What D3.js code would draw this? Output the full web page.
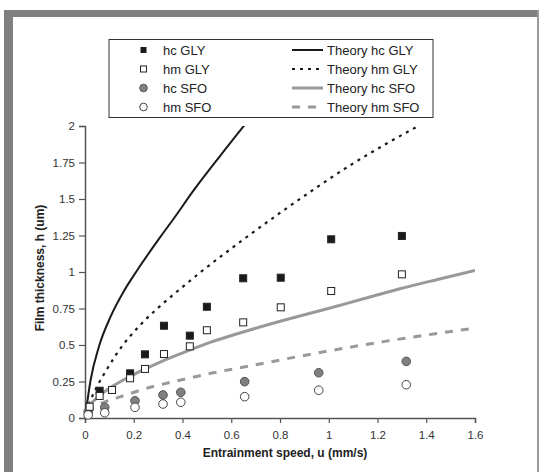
<!DOCTYPE html>
<html><head><meta charset="utf-8">
<script src="https://cdn.jsdelivr.net/npm/d3@7"></script>
<style>body{margin:0;background:#fff}svg{display:block;font-family:"Liberation Sans",Arial,sans-serif}</style>
</head><body><svg id="c" width="540" height="472"></svg>
<script>
const xTicks=[0,0.2,0.4,0.6,0.8,1,1.2,1.4,1.6];
const yTicks=[0,0.25,0.5,0.75,1,1.25,1.5,1.75,2];
const yTickLabels=["0","0.25","0.5","0.75","1","1.25","1.5","1.75","2"];
const xTickLabels=["0","0.2","0.4","0.6","0.8","1","1.2","1.4","1.6"];

const hcGLY_u=[0.060,0.185,0.246,0.324,0.430,0.500,0.649,0.803,1.010,1.300];
const hcGLY_h=[0.187,0.306,0.436,0.632,0.564,0.762,0.957,0.961,1.224,1.247];
const hmGLY_u=[0.019,0.060,0.111,0.185,0.246,0.324,0.430,0.500,0.649,0.803,1.010,1.300];
const hmGLY_h=[0.077,0.151,0.192,0.272,0.336,0.438,0.491,0.601,0.655,0.758,0.870,0.984];
const hcSFO_u=[0.013,0.081,0.205,0.320,0.393,0.655,0.959,1.318];
const hcSFO_h=[0.043,0.073,0.118,0.158,0.176,0.249,0.310,0.388];
const hmSFO_u=[0.013,0.081,0.205,0.320,0.393,0.655,0.959,1.318];
const hmSFO_h=[0.021,0.036,0.073,0.096,0.108,0.146,0.190,0.228];

const thcGLY_u=[0.003,0.023,0.057,0.105,0.160,0.215,0.310,0.365,0.447,0.557,0.680];
const thcGLY_h=[0.032,0.260,0.488,0.694,0.870,1.014,1.242,1.368,1.562,1.801,2.060];
const thmGLY_u=[0.005,0.030,0.057,0.085,0.126,0.160,0.201,0.249,0.331,0.420,0.475,0.560,0.648,0.807,0.951,1.087,1.238,1.400];
const thmGLY_h=[0.040,0.150,0.240,0.320,0.430,0.510,0.590,0.675,0.800,0.925,1.000,1.110,1.220,1.413,1.580,1.730,1.880,2.030];
const thcSFO_u=[0.010,0.050,0.111,0.185,0.246,0.324,0.406,0.516,0.611,0.690,0.850,0.998,1.150,1.292,1.450,1.600];
const thcSFO_h=[0.075,0.140,0.215,0.285,0.335,0.395,0.450,0.520,0.570,0.610,0.685,0.750,0.820,0.885,0.950,1.010];
const thmSFO_u=[0.010,0.037,0.085,0.146,0.276,0.393,0.516,0.670,0.910,1.224,1.600];
const thmSFO_h=[0.040,0.077,0.112,0.146,0.214,0.260,0.306,0.355,0.432,0.523,0.616];

const svg=d3.select("#c");
// frame
svg.append("rect").attr("x",4).attr("y",10).attr("width",535).attr("height",7).attr("fill","#808080");
svg.append("rect").attr("x",4).attr("y",10).attr("width",9).attr("height",462).attr("fill","#808080");
svg.append("rect").attr("x",537).attr("y",10).attr("width",2).attr("height",462).attr("fill","#9a9a9a");

const x=d3.scaleLinear().domain([0,1.6]).range([85,475]);
const y=d3.scaleLinear().domain([0,2]).range([418,126]);

svg.append("defs").append("clipPath").attr("id","clip").append("rect")
  .attr("x",85).attr("y",126).attr("width",390).attr("height",292);

const axCol="#555", txtCol="#333";
const xa=svg.append("g").attr("transform","translate(0,418)")
  .call(d3.axisBottom(x).tickValues(xTicks).tickSize(5).tickPadding(8).tickFormat((d,i)=>xTickLabels[i]));
const ya=svg.append("g").attr("transform","translate(85,0)")
  .call(d3.axisLeft(y).tickValues(yTicks).tickSize(6).tickPadding(4).tickFormat((d,i)=>yTickLabels[i]));
[xa,ya].forEach(a=>{
  a.selectAll("path").attr("stroke",axCol).attr("stroke-width",1.5);
  a.selectAll("line").attr("stroke",axCol).attr("stroke-width",1.2);
  a.selectAll("text").attr("fill",txtCol).style("font-size","11.5px").style("font-family","Liberation Sans, Arial, sans-serif");
});

svg.append("text").attr("x",285).attr("y",457).attr("text-anchor","middle")
  .style("font-weight","bold").style("font-size","12px").attr("fill","#222").text("Entrainment speed, u (mm/s)");
svg.append("text").attr("transform","translate(44,268) rotate(-90)").attr("text-anchor","middle")
  .style("font-weight","bold").style("font-size","12px").attr("fill","#222").text("Film thickness, h (um)");

const line=d3.line().x(d=>x(d[0])).y(d=>y(d[1])).curve(d3.curveMonotoneX);
const zip=(a,b)=>a.map((v,i)=>[v,b[i]]);
const curves=[
  {u:thcGLY_u,h:thcGLY_h,stroke:"#1a1a1a",w:2,dash:null},
  {u:thmGLY_u,h:thmGLY_h,stroke:"#1a1a1a",w:2.2,dash:"3,5"},
  {u:thcSFO_u,h:thcSFO_h,stroke:"#999",w:3,dash:null},
  {u:thmSFO_u,h:thmSFO_h,stroke:"#999",w:3,dash:"8,8"}
];
const cg=svg.append("g").attr("clip-path","url(#clip)");
curves.forEach(c=>{
  cg.append("path").datum(zip(c.u,c.h)).attr("d",line).attr("fill","none")
    .attr("stroke",c.stroke).attr("stroke-width",c.w).attr("stroke-dasharray",c.dash);
});

function squares(u,h,fill){
  svg.append("g").selectAll("rect").data(zip(u,h)).join("rect")
    .attr("x",d=>x(d[0])-3.5).attr("y",d=>y(d[1])-3.5).attr("width",7).attr("height",7)
    .attr("fill",fill).attr("stroke","#222").attr("stroke-width",1);
}
function circles(u,h,fill,stroke){
  svg.append("g").selectAll("circle").data(zip(u,h)).join("circle")
    .attr("cx",d=>x(d[0])).attr("cy",d=>y(d[1])).attr("r",4.3)
    .attr("fill",fill).attr("stroke",stroke).attr("stroke-width",1);
}
circles(hcSFO_u,hcSFO_h,"#808080","#555");
circles(hmSFO_u,hmSFO_h,"#fff","#444");
squares(hcGLY_u,hcGLY_h,"#1a1a1a");
squares(hmGLY_u,hmGLY_h,"#fff");

// legend
const lg=svg.append("g");
lg.append("rect").attr("x",109).attr("y",39.5).attr("width",324).attr("height",78).attr("fill","#fff").attr("stroke","#333").attr("stroke-width",1);
const legLeft=["hc GLY","hm GLY","hc SFO","hm SFO"];
const legRight=["Theory hc GLY","Theory hm GLY","Theory hc SFO","Theory hm SFO"];
const rowY=[50,69,88,107];
legLeft.forEach((t,i)=>{
  const cy=rowY[i];
  if(i===0) lg.append("rect").attr("x",140.5).attr("y",cy-3).attr("width",6).attr("height",6).attr("fill","#1a1a1a");
  if(i===1) lg.append("rect").attr("x",140.5).attr("y",cy-3).attr("width",6).attr("height",6).attr("fill","#fff").attr("stroke","#222");
  if(i===2) lg.append("circle").attr("cx",143.5).attr("cy",cy).attr("r",3.8).attr("fill","#808080").attr("stroke","#555");
  if(i===3) lg.append("circle").attr("cx",143.5).attr("cy",cy).attr("r",3.8).attr("fill","#fff").attr("stroke","#444");
  lg.append("text").attr("x",163).attr("y",cy+4.5).style("font-size","13px").attr("fill","#222").text(t);
});
legRight.forEach((t,i)=>{
  const cy=rowY[i], c=curves[i];
  lg.append("line").attr("x1",292).attr("x2",323).attr("y1",cy).attr("y2",cy)
    .attr("stroke",c.stroke).attr("stroke-width",c.w).attr("stroke-dasharray",c.dash);
  lg.append("text").attr("x",327).attr("y",cy+4.5).style("font-size","13px").attr("fill","#222").text(t);
});
</script></body></html>
